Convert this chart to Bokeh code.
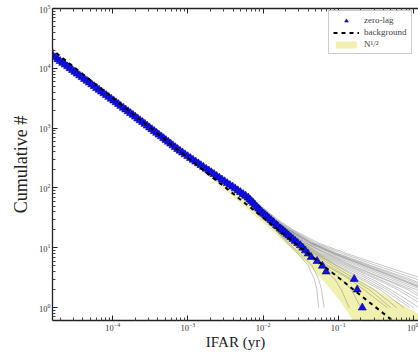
from bokeh.plotting import figure
from bokeh.models import LogAxis, FixedTicker, Legend, LegendItem, Range1d
from bokeh.embed import file_html
from bokeh.resources import INLINE

# ---- data ----
zero_lag_count = [20000, 18640, 17378, 16218, 15136, 14125, 13183, 12303, 11482, 10715,
                  10000, 9333, 8710, 8128, 7586, 7080, 6607, 6166, 5754, 5370, 5012,
                  4677, 4365, 4074, 3802, 3548, 3311, 3090, 2884, 2692, 2512, 2344, 2188,
                  2042, 1905, 1778, 1660, 1549, 1445, 1349, 1259, 1175, 1096, 1023, 955,
                  891, 832, 776, 724, 676, 631, 589, 550, 513, 479, 447, 417, 389, 363,
                  339, 316, 295, 275, 257, 240, 224, 209, 195, 182, 170, 158, 148, 138,
                  129, 120, 112, 105, 98, 91, 85, 79, 74, 69, 64, 60, 56, 52, 48, 45, 42,
                  40, 37, 35, 33, 31, 29, 27, 26, 24, 23, 21, 20, 19, 18, 17, 16, 15, 14,
                  13, 12, 11, 10, 9, 8, 7, 6, 5, 4, 3, 2, 1]
zero_lag_ifar = [1.285e-5, 1.384e-5, 1.49e-5, 1.605e-5, 1.73e-5, 1.86e-5, 2.00e-5, 2.16e-5,
                 2.33e-5, 2.51e-5, 2.70e-5, 2.91e-5, 3.13e-5, 3.37e-5, 3.63e-5, 3.91e-5,
                 4.21e-5, 4.54e-5, 4.89e-5, 5.26e-5, 5.66e-5, 6.10e-5, 6.58e-5, 7.08e-5,
                 7.62e-5, 8.21e-5, 8.85e-5, 9.55e-5, 1.03e-4, 1.107e-4, 1.19e-4, 1.28e-4,
                 1.38e-4, 1.486e-4, 1.60e-4, 1.725e-4, 1.86e-4, 2.00e-4, 2.15e-4, 2.31e-4,
                 2.49e-4, 2.68e-4, 2.88e-4, 3.09e-4, 3.32e-4, 3.57e-4, 3.84e-4, 4.12e-4,
                 4.43e-4, 4.76e-4, 5.11e-4, 5.49e-4, 5.89e-4, 6.32e-4, 6.79e-4, 7.30e-4,
                 7.85e-4, 8.49e-4, 9.18e-4, 9.96e-4, 1.08e-3, 1.17e-3, 1.27e-3, 1.38e-3,
                 1.49e-3, 1.61e-3, 1.75e-3, 1.90e-3, 2.06e-3, 2.23e-3, 2.42e-3, 2.62e-3,
                 2.84e-3, 3.08e-3, 3.34e-3, 3.62e-3, 3.93e-3, 4.26e-3, 4.62e-3, 5.01e-3,
                 5.43e-3, 5.87e-3, 6.35e-3, 6.70e-3, 7.06e-3, 7.45e-3, 7.85e-3, 8.30e-3,
                 8.75e-3, 9.15e-3, 9.57e-3, 1.02e-2, 1.08e-2, 1.14e-2, 1.20e-2, 1.28e-2,
                 1.36e-2, 1.40e-2, 1.51e-2, 1.57e-2, 1.70e-2, 1.78e-2, 1.87e-2, 1.97e-2,
                 2.08e-2, 2.20e-2, 2.34e-2, 2.50e-2, 2.68e-2, 2.89e-2, 3.14e-2, 3.38e-2,
                 3.65e-2, 3.97e-2, 4.37e-2, 5.24e-2, 6.15e-2, 6.9e-2, 0.163, 0.179, 0.209]

background_ifar = [1.0e-5, 3.0]
background_count = [32000, 0.1067]

band_ifar = [0.001, 0.002, 0.003, 0.005, 0.01, 0.02, 0.03, 0.05, 0.07, 0.1, 0.134,
             0.16, 0.2, 0.3, 0.5, 0.8, 1.2, 2.0]
band_upper = [337.9, 172.6, 117.0, 72.0, 37.7, 20.0, 13.9, 8.93, 6.71, 4.99, 3.94,
              3.41, 2.86, 2.10, 1.44, 1.03, 0.78, 0.56]
band_lower = [302.1, 147.4, 96.4, 56.0, 26.3, 12.0, 7.40, 3.87, 2.43, 1.41, 0.84,
              0.59, 0.34, 0.037, 0.01, 0.01, 0.01, 0.01]

trial_top_count = [20000, 2000, 300]
trial_top_ifar = [1.3e-5, 1.52e-4, 1.15e-3]
trial_tail_count = [100, 50, 30, 20, 12, 8, 5, 3, 2, 1]
trial_tail_ifar = [
    [0.0046, 0.0094, 0.0155, 0.025, 0.055, 0.13, 0.40, 1.4, 3.0, 7.0],
    [0.0044, 0.0090, 0.0145, 0.023, 0.047, 0.10, 0.28, 0.9, 2.0, 5.0],
    [0.0042, 0.0085, 0.0135, 0.021, 0.040, 0.080, 0.20, 0.55, 1.3, 3.0],
    [0.0040, 0.0080, 0.0125, 0.019, 0.034, 0.062, 0.14, 0.35, 0.70, 1.8],
    [0.0039, 0.0077, 0.0118, 0.017, 0.030, 0.050, 0.10, 0.22, 0.40, 0.9],
    [0.0038, 0.0074, 0.0110, 0.016, 0.026, 0.040, 0.070, 0.14, 0.22, 0.45],
    [0.0037, 0.0072, 0.0105, 0.015, 0.022, 0.031, 0.045, 0.055, 0.060, 0.065],
    [0.0043, 0.0088, 0.0140, 0.022, 0.044, 0.090, 0.24, 0.70, 1.6, 4.0],
    [0.0041, 0.0082, 0.0128, 0.020, 0.037, 0.070, 0.16, 0.42, 0.95, 2.2],
    [0.0040, 0.0079, 0.0122, 0.018, 0.032, 0.055, 0.12, 0.28, 0.50, 1.2],
    [0.0039, 0.0076, 0.0115, 0.017, 0.028, 0.045, 0.085, 0.17, 0.30, 0.6],
    [0.0038, 0.0073, 0.0108, 0.0155, 0.024, 0.036, 0.058, 0.09, 0.11, 0.14],
    [0.0045, 0.0092, 0.0150, 0.024, 0.050, 0.115, 0.33, 1.1, 2.5, 6.0],
    [0.0042, 0.0086, 0.0137, 0.0215, 0.042, 0.085, 0.22, 0.62, 1.5, 3.5],
    [0.0040, 0.0081, 0.0126, 0.0195, 0.036, 0.067, 0.15, 0.40, 0.85, 2.0],
    [0.0039, 0.0078, 0.0120, 0.018, 0.031, 0.052, 0.11, 0.25, 0.45, 1.0],
    [0.0038, 0.0075, 0.0112, 0.0165, 0.027, 0.042, 0.075, 0.15, 0.26, 0.5],
    [0.0037, 0.0071, 0.0102, 0.0145, 0.021, 0.029, 0.040, 0.048, 0.052, 0.055],
    [0.0044, 0.0089, 0.0142, 0.0225, 0.045, 0.095, 0.26, 0.8, 1.8, 4.5],
    [0.0041, 0.0083, 0.0131, 0.0205, 0.038, 0.073, 0.18, 0.48, 1.1, 2.6],
    [0.0039, 0.0077, 0.0117, 0.0172, 0.029, 0.048, 0.095, 0.20, 0.36, 0.75],
    [0.0038, 0.0074, 0.0109, 0.0158, 0.025, 0.038, 0.064, 0.11, 0.15, 0.2],
    [0.0043, 0.0087, 0.0138, 0.0218, 0.043, 0.088, 0.23, 0.66, 1.45, 3.8],
    [0.0040, 0.0080, 0.0123, 0.0185, 0.033, 0.058, 0.13, 0.32, 0.62, 1.5],
]

x_ticks = [1e-4, 1e-3, 1e-2, 1e-1, 1e0]
y_ticks = [1e0, 1e1, 1e2, 1e3, 1e4, 1e5]

SERIF = "Liberation Serif"

p = figure(width=418, height=352, x_axis_type="log", y_axis_type="log",
           x_range=Range1d(1.58e-5, 1.17), y_range=Range1d(0.61, 1.0e5),
           output_backend="svg", toolbar_location=None,
           min_border_left=52, min_border_right=0, min_border_top=8, min_border_bottom=30)
p.outline_line_color = None
p.grid.visible = False
p.background_fill_color = "white"

x_minor = [m * 10.0 ** k for k in range(-5, 1) for m in range(2, 10)]
y_minor = [m * 10.0 ** k for k in range(-1, 5) for m in range(2, 10)]

xax = p.xaxis[0]
yax = p.yaxis[0]
xax.ticker = FixedTicker(ticks=x_ticks, minor_ticks=x_minor)
yax.ticker = FixedTicker(ticks=y_ticks, minor_ticks=y_minor)

top = LogAxis(ticker=FixedTicker(ticks=x_ticks, minor_ticks=x_minor),
              major_label_text_font_size="1px", major_label_text_alpha=0.0,
              major_label_standoff=0)
p.add_layout(top, "above")

for ax in [xax, yax, top]:
    ax.axis_line_width = 1.3
    ax.axis_line_color = "#222222"
    ax.major_tick_in = 5
    ax.major_tick_out = 0
    ax.minor_tick_in = 3
    ax.minor_tick_out = 0
    ax.major_tick_line_color = "#222222"
    ax.minor_tick_line_color = "#444444"

for ax in [xax, yax]:
    ax.major_label_text_font = SERIF
    ax.major_label_text_font_size = "8.5px"
    ax.major_label_text_color = "#333333"
    ax.major_label_standoff = 2
    ax.axis_label_text_font = SERIF
    ax.axis_label_text_font_style = "normal"
    ax.axis_label_text_color = "#222222"

xax.axis_label = "IFAR (yr)"
xax.axis_label_text_font_size = "15px"
xax.axis_label_standoff = 0
yax.axis_label = "Cumulative #"
yax.axis_label_text_font_size = "18px"
yax.axis_label_standoff = 5

r_band = p.varea(x=band_ifar, y1=band_lower, y2=band_upper,
                 fill_color="#eeeea6", fill_alpha=0.9)

for tail in trial_tail_ifar:
    p.line(trial_top_ifar + tail, trial_top_count + trial_tail_count,
           line_color="#808080", line_alpha=0.45, line_width=1)

r_zero = p.scatter(zero_lag_ifar, zero_lag_count, marker="triangle", size=8,
                   fill_color="#1010ee", line_color="#00008a", line_width=0.6)

r_bg = p.line(background_ifar, background_count, line_color="black",
              line_width=2, line_dash="4 4")

legend = Legend(items=[LegendItem(label="zero-lag", renderers=[r_zero]),
                       LegendItem(label="background", renderers=[r_bg]),
                       LegendItem(label="N\u00b9/\u00b2", renderers=[r_band])],
                location=(276, 266))
legend.label_text_font = SERIF
legend.label_text_font_size = "9px"
legend.glyph_width = 26
legend.glyph_height = 9
legend.label_height = 9
legend.spacing = 2
legend.padding = 4
legend.margin = 0
legend.label_standoff = 5
legend.border_line_color = "#999999"
legend.border_line_width = 1
legend.background_fill_alpha = 1.0
p.add_layout(legend)

open("out.html", "w").write(file_html(p, INLINE))
